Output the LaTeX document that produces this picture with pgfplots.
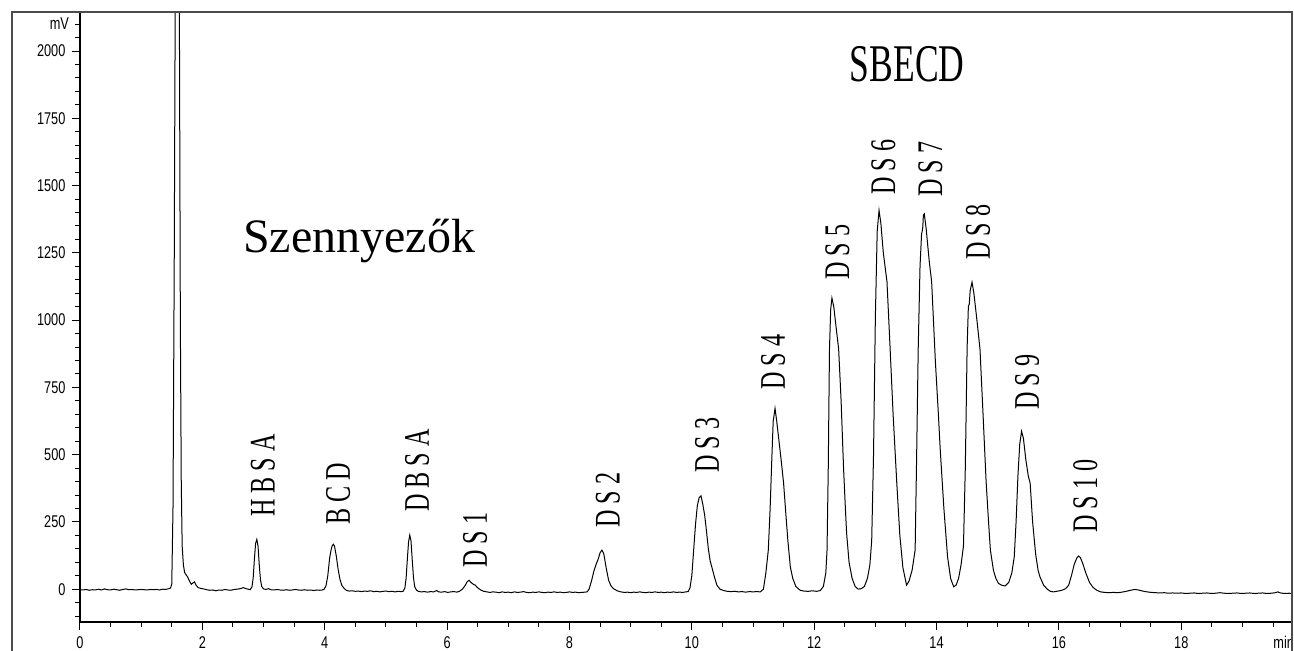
\documentclass[border=0pt]{standalone}
\usepackage{fontspec}
\setmainfont{Liberation Serif}
\newfontfamily\ticksf[FakeStretch=0.75]{Liberation Sans}
\newfontfamily\condserif[FakeStretch=0.67]{Liberation Serif}
\usepackage{pgfplots}
\pgfplotsset{compat=1.18}

\begin{document}
\begin{tikzpicture}
\useasboundingbox (-40pt,-14pt) rectangle (607pt,311pt);
\begin{axis}[
    at={(0pt,0pt)}, anchor=south west,
    scale only axis,
    width=606pt, height=305pt,
    xmin=0, xmax=19.81,
    ymin=-122, ymax=2145,
    xtick={0,2,...,18},
    minor xtick={0,0.5,...,19.5},
    ytick={0,250,...,2000},
    minor ytick={-100,-50,...,2100},
    extra y ticks={2100}, extra y tick labels={mV},
    extra y tick style={major tick length=2pt},
    tick align=outside,
    xtick pos=left, ytick pos=left,
    major tick length=3.75pt, minor tick length=2.25pt,
    tick style={black, line width=0.5pt},
    axis line style={line width=0.6pt},
    scaled ticks=false,
    /pgf/number format/1000 sep={},
    /pgf/number format/assume math mode=true,
    tick label style={font=\ticksf\fontsize{8.5}{8.5}\selectfont},
    clip mode=individual,
]
\addplot[black, line width=0.5pt] coordinates {
(0.00,-2) (0.05,-3) (0.10,-1) (0.15,-4) (0.20,-2) (0.25,-3) (0.30,0) (0.35,-3)
(0.40,1) (0.45,-2) (0.50,-3) (0.55,0) (0.60,-2) (0.65,-4) (0.70,-1) (0.75,1)
(0.80,-2) (0.85,-1) (0.90,-3) (0.95,-2) (1.00,-1) (1.05,-2) (1.10,-3) (1.15,-1)
(1.20,-2) (1.25,-1) (1.30,-3) (1.35,0) (1.40,-1) (1.45,2) (1.48,4)
(1.50,20) (1.52,300) (1.54,1200) (1.555,2100) (1.57,3500) (1.59,4500)
(1.61,3600) (1.625,2100) (1.64,1000) (1.655,400) (1.67,160) (1.69,90)
(1.71,62) (1.73,55) (1.76,45) (1.79,30) (1.82,18) (1.85,24) (1.87,27)
(1.90,14) (1.93,6) (1.97,3) (2.02,1) (2.07,-2) (2.12,-4) (2.17,-3) (2.22,-6)
(2.27,-3) (2.32,-4) (2.37,-1) (2.42,-3) (2.47,-4) (2.52,-1) (2.57,0) (2.62,2)
(2.67,6) (2.71,2) (2.75,0) (2.78,-2)
(2.81,8) (2.83,40) (2.85,110) (2.87,170) (2.89,185) (2.91,160) (2.93,90)
(2.95,35) (2.97,10) (3.00,1)
(3.04,-1) (3.08,2) (3.12,-2) (3.17,-3) (3.22,-1) (3.27,-3) (3.32,-4) (3.37,-2)
(3.42,-4) (3.47,-3) (3.52,-1) (3.57,-3) (3.62,-4) (3.67,-2) (3.72,-4) (3.77,-3)
(3.82,-5) (3.87,-3) (3.92,-4) (3.96,-3)
(3.99,0) (4.02,12) (4.05,50) (4.08,115) (4.10,142) (4.12,160) (4.14,167)
(4.16,160) (4.19,122) (4.22,72) (4.25,36) (4.28,14) (4.32,2) (4.36,-5)
(4.40,-7) (4.45,-6) (4.50,-8) (4.55,-7) (4.60,-9) (4.65,-7) (4.70,-8) (4.75,-6)
(4.80,-9) (4.85,-8) (4.90,-10) (4.95,-8) (5.00,-7) (5.05,-9) (5.10,-8)
(5.15,-10) (5.20,-8) (5.25,-9) (5.28,-8)
(5.31,4) (5.33,40) (5.35,110) (5.37,175) (5.39,201) (5.41,180) (5.43,110)
(5.45,45) (5.47,10) (5.50,-4) (5.53,-8)
(5.58,-10) (5.63,-9) (5.68,-11) (5.73,-9) (5.78,-10) (5.83,-5) (5.86,-10)
(5.91,-11) (5.96,-9) (6.01,-12) (6.06,-10) (6.11,-9) (6.16,-11) (6.20,-8)
(6.25,0) (6.29,12) (6.33,28) (6.36,33) (6.39,25) (6.43,18) (6.46,15) (6.50,5)
(6.55,-3) (6.60,-8) (6.65,-10)
(6.70,-12) (6.75,-10) (6.80,-11) (6.85,-13) (6.90,-10) (6.95,-12) (7.00,-11)
(7.05,-13) (7.10,-10) (7.15,-12) (7.20,-11) (7.25,-9) (7.30,-12) (7.35,-13)
(7.40,-11) (7.45,-12) (7.50,-10) (7.55,-12) (7.60,-13) (7.65,-11) (7.70,-12)
(7.75,-10) (7.80,-12) (7.85,-11) (7.90,-13) (7.95,-12) (8.00,-10) (8.05,-12)
(8.10,-11) (8.15,-13) (8.20,-12) (8.25,-11) (8.29,-10)
(8.32,0) (8.36,30) (8.40,68) (8.44,95) (8.47,112) (8.50,135) (8.53,145)
(8.56,133) (8.60,80) (8.64,33) (8.68,12) (8.72,2) (8.78,-6) (8.84,-10)
(8.90,-12) (8.95,-11) (9.00,-13) (9.05,-11) (9.10,-12) (9.15,-10) (9.20,-12)
(9.25,-13) (9.30,-11) (9.35,-12) (9.40,-10) (9.45,-12) (9.50,-11) (9.55,-13)
(9.60,-11) (9.65,-12) (9.70,-10) (9.75,-12) (9.80,-11) (9.85,-12) (9.90,-10)
(9.94,-9)
(9.97,5) (10.00,50) (10.03,145) (10.06,240) (10.09,310) (10.12,340)
(10.15,347) (10.18,315) (10.21,275) (10.24,215) (10.27,150) (10.30,105)
(10.33,80) (10.37,45) (10.41,15) (10.46,0) (10.52,-5) (10.58,-8)
(10.64,-9) (10.70,-8) (10.76,-10) (10.82,-9) (10.88,-11) (10.94,-9)
(11.00,-10) (11.06,-9) (11.12,-10)
(11.17,0) (11.21,60) (11.25,145) (11.28,300) (11.31,500) (11.33,624)
(11.36,672) (11.39,620) (11.42,560) (11.46,480) (11.50,394) (11.54,270)
(11.57,180) (11.61,83) (11.65,40) (11.70,10) (11.77,-4) (11.83,-7)
(11.90,-8) (11.97,-6) (12.04,-8) (12.10,-5)
(12.15,10) (12.19,60) (12.21,145) (12.23,450) (12.25,892) (12.27,1040)
(12.29,1082) (12.32,1050) (12.36,970) (12.40,892) (12.44,700) (12.48,450)
(12.51,300) (12.53,208) (12.57,100) (12.62,40) (12.67,10) (12.72,0)
(12.77,2) (12.82,10) (12.87,40) (12.91,90) (12.94,180) (12.97,500)
(13.00,1012) (13.03,1330) (13.06,1408) (13.09,1360) (13.13,1250)
(13.19,1142) (13.24,900) (13.29,650) (13.35,395) (13.40,200) (13.45,80)
(13.51,15)
(13.55,30) (13.60,70) (13.65,145) (13.675,500) (13.70,890) (13.73,1200)
(13.755,1320) (13.765,1330) (13.775,1345) (13.785,1390) (13.80,1395)
(13.83,1340) (13.88,1220) (13.92,1142) (13.98,850) (14.03,650) (14.06,519)
(14.12,300) (14.18,120) (14.23,40) (14.28,9)
(14.32,15) (14.36,40) (14.40,90) (14.44,160) (14.47,450) (14.50,900)
(14.52,1050) (14.535,1060) (14.55,1110) (14.58,1141) (14.61,1100)
(14.66,1000) (14.71,892) (14.76,650) (14.81,400) (14.85,250) (14.88,145)
(14.93,70) (14.97,40) (15.01,22)
(15.06,15) (15.12,12) (15.18,25) (15.23,60) (15.27,120) (15.30,250)
(15.33,420) (15.36,540) (15.39,587) (15.42,560) (15.46,480) (15.50,420)
(15.53,394) (15.57,250) (15.62,130) (15.66,70) (15.69,46) (15.75,15)
(15.81,0) (15.86,-8) (15.91,-10) (15.96,-8) (16.01,-6) (16.06,-3)
(16.11,2) (16.16,15) (16.21,55) (16.25,92) (16.29,115) (16.32,123)
(16.35,118) (16.39,95) (16.44,60) (16.50,25) (16.56,6) (16.62,-4)
(16.68,-10) (16.75,-12) (16.82,-13) (16.89,-12) (16.96,-13) (17.03,-11)
(17.10,-8) (17.17,-4) (17.24,-1) (17.30,-3) (17.37,-7) (17.44,-10)
(17.51,-12) (17.58,-13) (17.65,-14) (17.72,-13) (17.79,-15) (17.86,-14)
(17.93,-15) (18.00,-14) (18.07,-16) (18.14,-15) (18.21,-14) (18.28,-16)
(18.35,-15) (18.42,-14) (18.49,-16) (18.56,-15) (18.63,-13) (18.70,-15)
(18.77,-16) (18.84,-15) (18.91,-14) (18.98,-16) (19.05,-15) (19.12,-14)
(19.19,-16) (19.26,-15) (19.33,-14) (19.40,-16) (19.47,-15) (19.54,-13)
(19.58,-10) (19.62,-14) (19.69,-16) (19.76,-15) (19.81,-16)
};
% peak labels
\begin{scope}[every node/.style={rotate=90, anchor=west, inner sep=0pt,
    font=\condserif\fontsize{18}{18}\selectfont}]
\node at (axis cs:2.99,268) {H B S A};
\node at (axis cs:4.22,238) {B C D};
\node at (axis cs:5.51,286) {D B S A};
\node at (axis cs:6.46,78) {D S 1};
\node at (axis cs:8.63,227) {D S 2};
\node at (axis cs:10.25,431) {D S 3};
\node at (axis cs:11.33,740) {D S 4};
\node at (axis cs:12.38,1149) {D S 5};
\node at (axis cs:13.13,1465) {D S 6};
\node at (axis cs:13.90,1457) {D S 7};
\node at (axis cs:14.68,1223) {D S 8};
\node at (axis cs:15.48,665) {D S 9};
\node at (axis cs:16.43,208) {D S 1 0};
\end{scope}
\node[anchor=base, inner sep=0pt, font=\condserif\fontsize{26.5}{26.5}\selectfont]
    at (axis cs:13.52,1885) {SBECD};
\node[anchor=base west, inner sep=0pt, font=\fontsize{24}{24}\selectfont]
    at (axis cs:2.66,1253) {Szennyezők};
\node[anchor=north west, inner sep=0pt, font=\ticksf\fontsize{8.5}{8.5}\selectfont]
    at ([yshift=-7pt]axis cs:19.5,-122) {min};
\end{axis}
\draw[black!70, line width=0.8pt] (-34pt,-20pt) -- (-34pt,305pt) -- (606pt,305pt) -- (606pt,-20pt);
\end{tikzpicture}
\end{document}
